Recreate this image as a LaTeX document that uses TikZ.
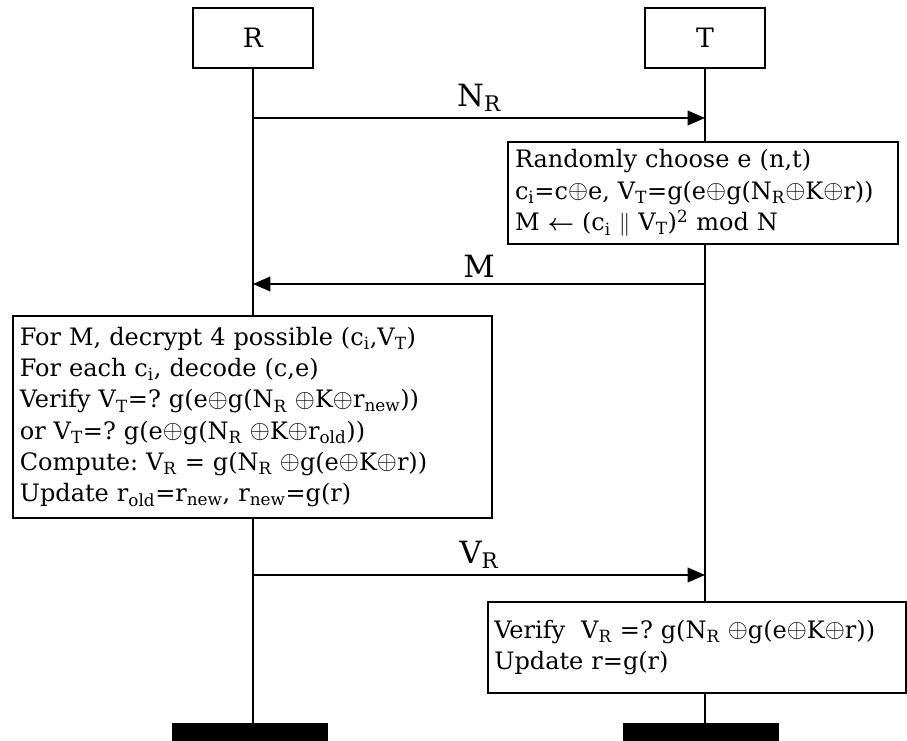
\documentclass[tikz,border=0pt]{standalone}
\usepackage{amsmath}
\usepackage{fontspec}
\usepackage{graphicx}
\setmainfont{DejaVu Serif}
\usetikzlibrary{positioning, arrows.meta, backgrounds}
\frenchspacing

\newcommand{\sbs}[1]{\textsubscript{#1}}
\newcommand{\xo}{\raisebox{0.05ex}{\scalebox{1.12}{$\oplus$}}}

\begin{document}
\begin{tikzpicture}[x=0.75pt, y=-0.75pt,
  party/.style={draw, line width=1.3pt, fill=white, minimum width=90pt, minimum height=45pt,
                font=\fontsize{20}{24}\selectfont},
  procbox/.style={draw, line width=1.3pt, fill=white, align=left, inner xsep=5pt,
                  font=\fontsize{18}{23.5}\selectfont},
  bar/.style={fill=black, minimum width=117pt, minimum height=15pt, inner sep=0pt},
  life/.style={line width=1.1pt},
  msg/.style={-{Triangle[length=13pt, width=11pt]}, line width=1.1pt},
  lbl/.style={above, inner sep=4pt, font=\fontsize{23}{26}\selectfont},
]
\useasboundingbox (0,0) rectangle (907,740);

% Parties
\node[party] (R) at (253,38) {R};
\node[party] (T) at (705,38) {T};

% End bars
\node[bar] (Rbar) at (250,733) {};
\node[bar] (Tbar) at (701,733) {};

% Tag computation
\node[procbox, text width=282pt, minimum height=76pt] (tcomp) at (703,193)
  {Randomly choose e (n,t)\\
   c\sbs{i}=c\xo e, V\sbs{T}=g(e\xo g(N\sbs{R}\xo K\xo r))\\
   M $\boldsymbol{\leftarrow}$ (c\sbs{i} $\|$ V\sbs{T})\textsuperscript{2} mod N};

% Reader computation
\node[procbox, text width=349pt, minimum height=152pt] (rcomp) at (252.5,417)
  {For M, decrypt 4 possible (c\sbs{i},V\sbs{T})\\
   For each c\sbs{i}, decode (c,e)\\
   Verify V\sbs{T}=? g(e\xo g(N\sbs{R} \xo K\xo r\sbs{new}))\\
   or V\sbs{T}=? g(e\xo g(N\sbs{R} \xo K\xo r\sbs{old}))\\
   Compute: V\sbs{R} = g(N\sbs{R} \xo g(e\xo K\xo r))\\
   Update r\sbs{old}=r\sbs{new}, r\sbs{new}=g(r)};

% Tag verification
\node[procbox, text width=304pt, minimum height=68pt] (tver) at (697,647.5)
  {Verify\ \ V\sbs{R} =? g(N\sbs{R} \xo g(e\xo K\xo r))\\
   Update r=g(r)};

% Message points on lifelines
\coordinate (r1) at (253,118);
\coordinate (t1) at (705,118);
\coordinate (r2) at (253,284);
\coordinate (t2) at (705,284);
\coordinate (r3) at (253,575);
\coordinate (t3) at (705,575);

% Lifelines
\begin{scope}[on background layer]
  \draw[life] (R.south) -- (R.south |- Rbar.north);
  \draw[life] (T.south) -- (T.south |- Tbar.north);
\end{scope}

% Messages
\draw[msg] (r1) -- node[lbl] {N\sbs{R}} (t1);
\draw[msg] (t2) -- node[lbl] {M} (r2);
\draw[msg] (r3) -- node[lbl] {V\sbs{R}} (t3);

\end{tikzpicture}
\end{document}
